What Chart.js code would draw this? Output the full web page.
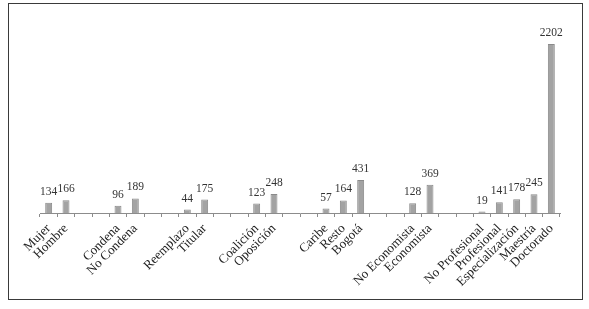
<!DOCTYPE html>
<html>
<head>
<meta charset="utf-8">
<script src="https://cdn.jsdelivr.net/npm/chart.js@4"></script>
<style>
  body { margin: 0; background: #fff; }
  #frame {
    position: absolute; left: 8px; top: 3px;
    width: 573px; height: 295px;
    border: 1px solid #3a3a3a;
  }
</style>
</head>
<body>
<div id="frame"><canvas id="myChart"></canvas></div>
<script>
// categorias (los '' son los espacios entre grupos)
const categories = ['Mujer', 'Hombre', '', '',
  'Condena', 'No Condena', '', '',
  'Reemplazo', 'Titular', '', '',
  'Coalición', 'Oposición', '', '',
  'Caribe', 'Resto', 'Bogotá', '', '',
  'No Economista', 'Economista', '', '',
  'No Profesional', 'Profesional', 'Especialización', 'Maestría', 'Doctorado'];
const values = [134, 166, null, null,
  96, 189, null, null,
  44, 175, null, null,
  123, 248, null, null,
  57, 164, 431, null, null,
  128, 369, null, null,
  19, 141, 178, 245, 2202];
const yMax = 2500;

// etiquetas encima de cada barra
const barLabels = {
  id: 'barLabels',
  afterDatasetsDraw(chart) {
    const ctx = chart.ctx;
    const meta = chart.getDatasetMeta(0);
    ctx.save();
    ctx.font = '11.5px "Liberation Serif", serif';
    ctx.fillStyle = '#333';
    ctx.textAlign = 'center';
    ctx.textBaseline = 'alphabetic';
    meta.data.forEach((bar, i) => {
      const v = values[i];
      if (v == null) return;
      ctx.fillText(String(v), bar.x, bar.y - 8);
    });
    ctx.restore();
  }
};

const ctx = document.getElementById('myChart');
new Chart(ctx, {
  type: 'bar',
  data: {
    labels: categories,
    datasets: [{
      data: values,
      backgroundColor: '#a3a3a3',
      borderColor: '#8a8a8a',
      borderWidth: 1,
      barPercentage: 0.8,
      categoryPercentage: 0.5
    }]
  },
  options: {
    responsive: true,
    maintainAspectRatio: false,
    animation: false,
    layout: { padding: { left: 31, right: 22, top: 17, bottom: 0 } },
    plugins: { legend: { display: false }, tooltip: { enabled: false } },
    scales: {
      y: { display: false, min: 0, max: yMax },
      x: {
        border: { display: true, color: '#8c8c8c', width: 1 },
        grid: { display: true, drawOnChartArea: false, drawTicks: true, tickLength: 4, color: '#8c8c8c', offset: true },
        ticks: {
          autoSkip: false, maxRotation: 45, minRotation: 45,
          color: '#222', padding: 4,
          font: { family: '"Liberation Serif", serif', size: 13 }
        },
        afterFit(scale) { scale.height = 86; }
      }
    }
  },
  plugins: [barLabels]
});
</script>
</body>
</html>
